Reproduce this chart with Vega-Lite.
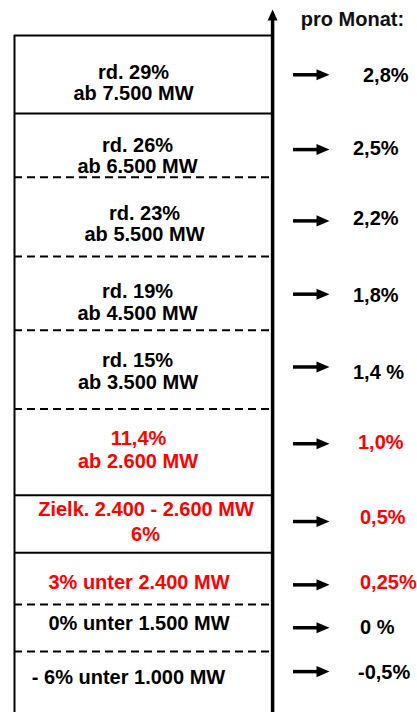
{
  "$schema": "https://vega.github.io/schema/vega-lite/v6.json",
  "width": 417,
  "height": 714,
  "autosize": {"type": "fit", "contains": "padding"},
  "padding": 0,
  "background": "white",
  "config": {"view": {"stroke": null}},
  "datasets": {
    "lines": [
      {"y": 35.5, "style": "solid"},
      {"y": 113.8, "style": "solid"},
      {"y": 177.8, "style": "dashed"},
      {"y": 257.2, "style": "dashed"},
      {"y": 331.2, "style": "dashed"},
      {"y": 410.2, "style": "dashed"},
      {"y": 496.7, "style": "solid"},
      {"y": 554.3, "style": "solid"},
      {"y": 606.2, "style": "dashed"},
      {"y": 653.3, "style": "dashed"}
    ],
    "rates": [
      {"arrow": 75, "y": 76.5, "x": 363, "label": "2,8%", "tone": "normal"},
      {"arrow": 150, "y": 149.5, "x": 353, "label": "2,5%", "tone": "normal"},
      {"arrow": 221.5, "y": 219.5, "x": 353, "label": "2,2%", "tone": "normal"},
      {"arrow": 295, "y": 296.5, "x": 353, "label": "1,8%", "tone": "normal"},
      {"arrow": 368, "y": 374.5, "x": 353, "label": "1,4 %", "tone": "normal"},
      {"arrow": 445, "y": 444.5, "x": 358, "label": "1,0%", "tone": "target"},
      {"arrow": 523, "y": 519.5, "x": 360, "label": "0,5%", "tone": "target"},
      {"arrow": 586.5, "y": 584.5, "x": 360, "label": "0,25%", "tone": "target"},
      {"arrow": 629.5, "y": 630, "x": 360, "label": "0 %", "tone": "normal"},
      {"arrow": 673.5, "y": 675, "x": 358, "label": "-0,5%", "tone": "normal"}
    ],
    "labels": [
      {"x": 133.5, "y": 73, "text": "rd. 29%", "tone": "normal"},
      {"x": 133.5, "y": 94, "text": "ab 7.500 MW", "tone": "normal"},
      {"x": 137.5, "y": 146, "text": "rd. 26%", "tone": "normal"},
      {"x": 137.5, "y": 167.5, "text": "ab 6.500 MW", "tone": "normal"},
      {"x": 144.5, "y": 214.5, "text": "rd. 23%", "tone": "normal"},
      {"x": 144.5, "y": 236, "text": "ab 5.500 MW", "tone": "normal"},
      {"x": 137.5, "y": 292.5, "text": "rd. 19%", "tone": "normal"},
      {"x": 137.5, "y": 315, "text": "ab 4.500 MW", "tone": "normal"},
      {"x": 137.5, "y": 362.5, "text": "rd. 15%", "tone": "normal"},
      {"x": 138, "y": 384.5, "text": "ab 3.500 MW", "tone": "normal"},
      {"x": 138.5, "y": 440, "text": "11,4%", "tone": "target"},
      {"x": 138, "y": 463, "text": "ab 2.600 MW", "tone": "target"},
      {"x": 146, "y": 511.5, "text": "Zielk. 2.400 - 2.600 MW", "tone": "target"},
      {"x": 145.5, "y": 536.5, "text": "6%", "tone": "target"},
      {"x": 139, "y": 584.5, "text": "3% unter 2.400 MW", "tone": "target"},
      {"x": 139, "y": 625.5, "text": "0% unter 1.500 MW", "tone": "normal"},
      {"x": 128.5, "y": 680, "text": "- 6% unter 1.000 MW", "tone": "normal"}
    ]
  },
  "layer": [
    {
      "data": {"values": [{"edge": "left"}]},
      "mark": {"type": "rule", "strokeWidth": 2, "color": "#000"},
      "encoding": {
        "x": {"datum": 14.5, "type": "quantitative", "scale": {"domain": [0, 417], "nice": false, "zero": false}, "axis": null},
        "y": {"datum": 35, "type": "quantitative", "scale": {"domain": [0, 714], "nice": false, "zero": false, "reverse": true}, "axis": null},
        "y2": {"datum": 714}
      }
    },
    {
      "data": {"name": "lines"},
      "mark": {"type": "rule", "strokeWidth": 2, "color": "#000"},
      "encoding": {
        "x": {"datum": 14, "type": "quantitative", "axis": null},
        "x2": {"datum": 273},
        "y": {"field": "y", "type": "quantitative", "axis": null},
        "strokeDash": {"field": "style", "type": "nominal", "scale": {"domain": ["solid", "dashed"], "range": [[1, 0], [8, 5]]}, "legend": null}
      }
    },
    {
      "data": {"values": [{"edge": "axis"}]},
      "mark": {"type": "rule", "strokeWidth": 3.5, "color": "#000"},
      "encoding": {
        "x": {"datum": 272.6, "type": "quantitative", "axis": null},
        "y": {"datum": 18, "type": "quantitative", "axis": null},
        "y2": {"datum": 714}
      }
    },
    {
      "data": {"values": [{"edge": "axishead"}]},
      "mark": {"type": "point", "shape": "M0,-1L0.9,1L-0.9,1Z", "filled": true, "opacity": 1, "color": "#000", "size": 121, "strokeWidth": 0},
      "encoding": {
        "x": {"datum": 272.6, "type": "quantitative", "axis": null},
        "y": {"datum": 15, "type": "quantitative", "axis": null}
      }
    },
    {
      "data": {"name": "rates"},
      "mark": {"type": "rule", "strokeWidth": 3.5, "color": "#000"},
      "encoding": {
        "x": {"datum": 293, "type": "quantitative", "axis": null},
        "x2": {"datum": 319},
        "y": {"field": "arrow", "type": "quantitative", "axis": null}
      }
    },
    {
      "data": {"name": "rates"},
      "mark": {"type": "point", "shape": "M-1,-0.85L1,0L-1,0.85Z", "filled": true, "opacity": 1, "color": "#000", "size": 169, "strokeWidth": 0},
      "encoding": {
        "x": {"datum": 323, "type": "quantitative", "axis": null},
        "y": {"field": "arrow", "type": "quantitative", "axis": null}
      }
    },
    {
      "data": {"name": "rates"},
      "mark": {"type": "text", "align": "left", "baseline": "middle", "font": "Liberation Sans", "fontWeight": "bold", "fontSize": 20},
      "encoding": {
        "x": {"field": "x", "type": "quantitative", "axis": null},
        "y": {"field": "y", "type": "quantitative", "axis": null},
        "text": {"field": "label"},
        "color": {"field": "tone", "type": "nominal", "scale": {"domain": ["normal", "target"], "range": ["#000000", "#ff0000"]}, "legend": null}
      }
    },
    {
      "data": {"name": "labels"},
      "mark": {"type": "text", "align": "center", "baseline": "middle", "font": "Liberation Sans", "fontWeight": "bold", "fontSize": 20},
      "encoding": {
        "x": {"field": "x", "type": "quantitative", "axis": null},
        "y": {"field": "y", "type": "quantitative", "axis": null},
        "text": {"field": "text"},
        "color": {"field": "tone", "type": "nominal", "scale": {"domain": ["normal", "target"], "range": ["#000000", "#ff0000"]}, "legend": null}
      }
    },
    {
      "data": {"values": [{"title": "pro Monat:"}]},
      "mark": {"type": "text", "align": "center", "baseline": "middle", "font": "Liberation Sans", "fontWeight": "bold", "fontSize": 20, "color": "#111"},
      "encoding": {
        "x": {"datum": 352.5, "type": "quantitative", "axis": null},
        "y": {"datum": 20.5, "type": "quantitative", "axis": null},
        "text": {"field": "title"}
      }
    }
  ]
}
